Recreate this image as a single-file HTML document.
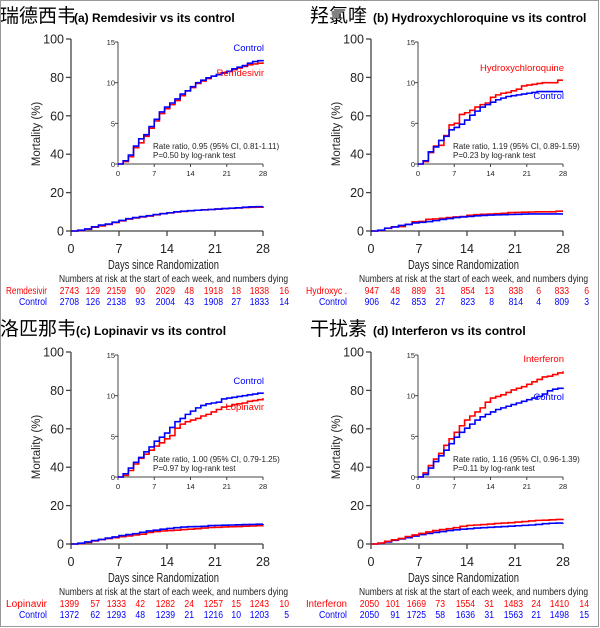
<!DOCTYPE html>
<html><head><meta charset="utf-8"><style>
html,body{margin:0;padding:0;background:#fff}
#wrap{position:relative;width:600px;height:628px;overflow:hidden}
svg{position:absolute;left:0;top:0}
text{font-family:"Liberation Sans","Noto Sans CJK SC",sans-serif}
</style></head><body>
<div id="wrap">
<svg id="svg" width="600" height="628" viewBox="0 0 600 628">
<rect x="0.5" y="0.5" width="598" height="626" fill="none" stroke="#999" stroke-width="1"/>
</svg>
</div>
<script>
const days = [0,1,2,3,4,5,6,7,8,9,10,11,12,13,14,15,16,17,18,19,20,21,22,23,24,25,26,27,28];
const xTicks = [0,7,14,21,28];
const yTicksMain = [0,20,40,60,80,100];
const yTicksInset = [0,5,10,15];
const panelCJK = ["瑞德西韦","羟氯喹","洛匹那韦","干扰素"];
const panelTitles = ["(a) Remdesivir vs its control","(b) Hydroxychloroquine vs its control","(c) Lopinavir vs its control","(d) Interferon vs its control"];
const treatNames = ["Remdesivir","Hydroxychloroquine","Lopinavir","Interferon"];
const treatRowLabels = ["Remdesivir","Hydroxyc .","Lopinavir","Interferon"];
const rateText = ["Rate ratio, 0.95 (95% CI, 0.81-1.11)","Rate ratio, 1.19 (95% CI, 0.89-1.59)","Rate ratio, 1.00 (95% CI, 0.79-1.25)","Rate ratio, 1.16 (95% CI, 0.96-1.39)"];
const pText = ["P=0.50 by log-rank test","P=0.23 by log-rank test","P=0.97 by log-rank test","P=0.11 by log-rank test"];
// cumulative mortality (%) at end of each day
const remTreat = [0,0.3,0.9,2.0,2.6,3.4,4.4,5.3,6.2,6.8,7.3,7.8,8.4,9.0,9.4,9.9,10.2,10.5,10.8,11.0,11.2,11.4,11.6,11.8,12.0,12.2,12.3,12.4,12.5];
const remCtrl  = [0,0.4,1.1,2.2,3.1,3.6,4.6,5.5,6.4,7.0,7.5,8.0,8.6,9.0,9.5,10.0,10.3,10.6,10.8,11.0,11.2,11.4,11.7,11.9,12.1,12.4,12.6,12.7,12.8];
const hcqTreat = [0,0.3,1.4,2.2,2.3,3.5,4.8,5.0,6.1,6.3,6.6,7.0,7.3,7.5,8.2,8.5,8.7,8.8,9.0,9.2,9.6,9.7,9.8,9.9,10.0,10.0,10.0,10.3,10.3];
const hcqCtrl  = [0,0.4,1.5,2.1,2.9,3.4,4.2,4.5,4.9,5.4,6.0,6.5,7.0,7.3,7.6,7.9,8.1,8.3,8.4,8.5,8.6,8.7,8.8,8.9,8.9,8.9,8.9,8.9,8.9];
const lopTreat = [0,0.2,0.8,1.6,2.3,2.8,3.3,3.8,4.2,4.7,5.1,6.0,6.5,6.8,7.0,7.2,7.5,7.7,8.0,8.3,8.6,8.7,8.9,9.0,9.1,9.3,9.4,9.5,9.7];
const lopCtrl  = [0,0.4,1.1,1.8,2.4,3.1,3.7,4.4,4.9,5.4,6.1,6.8,7.2,7.7,8.1,8.5,8.8,9.0,9.1,9.2,9.6,9.7,9.8,9.9,10.0,10.1,10.2,10.3,10.4];
const ifnTreat = [0,0.5,1.4,2.2,2.9,3.9,4.7,5.5,6.3,7.0,7.5,8.0,8.5,9.2,9.7,9.9,10.1,10.4,10.7,10.9,11.1,11.4,11.7,12.0,12.3,12.4,12.6,12.8,13.0];
const ifnCtrl  = [0,0.3,1.1,1.9,2.6,3.3,4.1,4.9,5.5,6.0,6.5,7.0,7.4,7.7,8.0,8.3,8.5,8.7,8.9,9.1,9.3,9.5,9.7,9.9,10.2,10.6,10.8,10.9,11.0];
// numbers at risk / dying per week
const remRiskT = ["2743","129","2159","90","2029","48","1918","18","1838","16"];
const remRiskC = ["2708","126","2138","93","2004","43","1908","27","1833","14"];
const hcqRiskT = ["947","48","889","31","854","13","838","6","833","6"];
const hcqRiskC = ["906","42","853","27","823","8","814","4","809","3"];
const lopRiskT = ["1399","57","1333","42","1282","24","1257","15","1243","10"];
const lopRiskC = ["1372","62","1293","48","1239","21","1216","10","1203","5"];
const ifnRiskT = ["2050","101","1669","73","1554","31","1483","24","1410","14"];
const ifnRiskC = ["2050","91","1725","58","1636","31","1563","21","1498","15"];

const treatSeries = [remTreat,hcqTreat,lopTreat,ifnTreat];
const ctrlSeries = [remCtrl,hcqCtrl,lopCtrl,ifnCtrl];
const riskT = [remRiskT,hcqRiskT,lopRiskT,ifnRiskT];
const riskC = [remRiskC,hcqRiskC,lopRiskC,ifnRiskC];

const svg = document.getElementById('svg');
const NS = 'http://www.w3.org/2000/svg';
function mk(tag, attrs, parent, txt){
  const e = document.createElementNS(NS, tag);
  for (const k in attrs) e.setAttribute(k, attrs[k]);
  if (txt !== undefined) e.textContent = txt;
  parent.appendChild(e);
  return e;
}
const offsets = [[0,0],[300,0],[0,313],[300,313]];
const cjkX = [0,310,0,310];
const titleX = [74,373,76,373];
const RED = '#ff0000', BLUE = '#0000ff', AX = '#444';
const treatLblY = [76,71,97,49];
const ctrlLblY = [51,99,71,87];
const colRight = [79,100,126,145,175,194,223,241,269,289];
const DIGIT_W = 4.8;

function stepPath(vals, xs, ys){
  let d = 'M' + xs(days[0]) + ',' + ys(vals[0]);
  for (let i = 1; i < vals.length; i++){
    d += ' H' + xs(days[i]).toFixed(2) + ' V' + ys(vals[i]).toFixed(2);
  }
  return d;
}

for (let p = 0; p < 4; p++){
  const [ox, oy] = offsets[p];
  const g = mk('g', {transform:`translate(${ox},${oy})`}, svg);
  
  

  const t1 = mk('text', {x:cjkX[p]-ox, y:22, 'font-size':19, fill:'#000'}, g, panelCJK[p]);
  
  
  const t2 = mk('text', {x:titleX[p]-ox, y:22, 'font-size':12, 'font-weight':'bold', fill:'#000'}, g, panelTitles[p]);
  
  

  const mx = d => 71 + d * (263 - 71) / 28;
  const my = v => 231 - v * (231 - 39) / 100;
  const axes = mk('g', {stroke:AX, 'stroke-width':1.3, fill:'none'}, g);
  
  
  mk('line', {x1:mx(0), y1:my(0), x2:mx(0), y2:my(100)}, axes);
  mk('line', {x1:mx(0), y1:my(0), x2:mx(28), y2:my(0)}, axes);
  yTicksMain.forEach(v => {
    mk('line', {x1:mx(0)-5, y1:my(v), x2:mx(0), y2:my(v)}, axes);
    const t = mk('text', {x:mx(0)-7, y:my(v)+4.5, 'font-size':12.5, 'text-anchor':'end', fill:'#222'}, g, String(v));
    
    
  });
  xTicks.forEach(v => {
    mk('line', {x1:mx(v), y1:my(0), x2:mx(v), y2:my(0)+5}, axes);
    const t = mk('text', {x:mx(v), y:253, 'font-size':12.5, 'text-anchor':'middle', fill:'#222'}, g, String(v));
    
    
  });
  const xt = mk('text', {x:108, y:269, 'font-size':12.5, fill:'#222', textLength:111, lengthAdjust:'spacingAndGlyphs'}, g, 'Days since Randomization');
  
  
  const yt = mk('text', {x:0, y:0, 'font-size':11.5, 'text-anchor':'middle', fill:'#222', transform:'translate(40,134) rotate(-90)'}, g, 'Mortality (%)');
  
  

  const mc = mk('path', {d:stepPath(ctrlSeries[p], mx, my), stroke:BLUE, 'stroke-width':1.6, fill:'none'}, g);
  
  
  const mt = mk('path', {d:stepPath(treatSeries[p], mx, my), stroke:RED, 'stroke-width':1.6, fill:'none'}, g);
  
  
  if (p !== 3) g.appendChild(mc);

  const ix = d => 118 + d * (263 - 118) / 28;
  const iy = v => 164 - v * (164 - 42) / 15;
  const ia = mk('g', {stroke:AX, 'stroke-width':1, fill:'none'}, g);
  
  
  mk('line', {x1:ix(0), y1:iy(0), x2:ix(0), y2:iy(15)}, ia);
  mk('line', {x1:ix(0), y1:iy(0), x2:ix(28), y2:iy(0)}, ia);
  yTicksInset.forEach(v => {
    mk('line', {x1:ix(0)-3, y1:iy(v), x2:ix(0), y2:iy(v)}, ia);
    const t = mk('text', {x:ix(0)-3, y:iy(v)+3, 'font-size':7.5, 'text-anchor':'end', fill:'#222'}, g, String(v));
    
    
  });
  xTicks.forEach(v => {
    mk('line', {x1:ix(v), y1:iy(0), x2:ix(v), y2:iy(0)+3}, ia);
    const t = mk('text', {x:ix(v), y:iy(0)+12, 'font-size':7.5, 'text-anchor':'middle', fill:'#222'}, g, String(v));
    
    
  });
  const ict = mk('path', {d:stepPath(treatSeries[p], ix, iy), stroke:RED, 'stroke-width':1.6, fill:'none'}, g);
  
  
  const icc = mk('path', {d:stepPath(ctrlSeries[p], ix, iy), stroke:BLUE, 'stroke-width':1.6, fill:'none'}, g);
  
  

  const lt = mk('text', {x:264, y:treatLblY[p], 'font-size':9.5, 'text-anchor':'end', fill:RED}, g, treatNames[p]);
  
  
  const lc = mk('text', {x:264, y:ctrlLblY[p], 'font-size':9.5, 'text-anchor':'end', fill:BLUE}, g, 'Control');
  
  

  const a1 = mk('text', {x:153, y:149, 'font-size':8, fill:'#222'}, g, rateText[p]);
  
  
  const a2 = mk('text', {x:153, y:158, 'font-size':8, fill:'#222'}, g, pText[p]);
  
  

  const hdr = mk('text', {x:59, y:282, 'font-size':10, fill:'#222', textLength:229, lengthAdjust:'spacingAndGlyphs'}, g, 'Numbers at risk at the start of each week, and numbers dying');
  
  
  const rl1 = mk('text', {x:6, y:294, 'font-size':10, fill:RED, textLength:41, lengthAdjust:'spacingAndGlyphs'}, g, treatRowLabels[p]);
  
  
  const rl2 = mk('text', {x:19, y:305, 'font-size':10, fill:BLUE, textLength:28, lengthAdjust:'spacingAndGlyphs'}, g, 'Control');
  
  
  riskT[p].forEach((v, i) => {
    const w = v.length * DIGIT_W;
    const t = mk('text', {x:(colRight[i]-w).toFixed(1), y:294, 'font-size':10, fill:RED, textLength:w.toFixed(1), lengthAdjust:'spacingAndGlyphs'}, g, v);
    
    
  });
  riskC[p].forEach((v, i) => {
    const w = v.length * DIGIT_W;
    const t = mk('text', {x:(colRight[i]-w).toFixed(1), y:305, 'font-size':10, fill:BLUE, textLength:w.toFixed(1), lengthAdjust:'spacingAndGlyphs'}, g, v);
    
    
  });
}
</script>
</body></html>
